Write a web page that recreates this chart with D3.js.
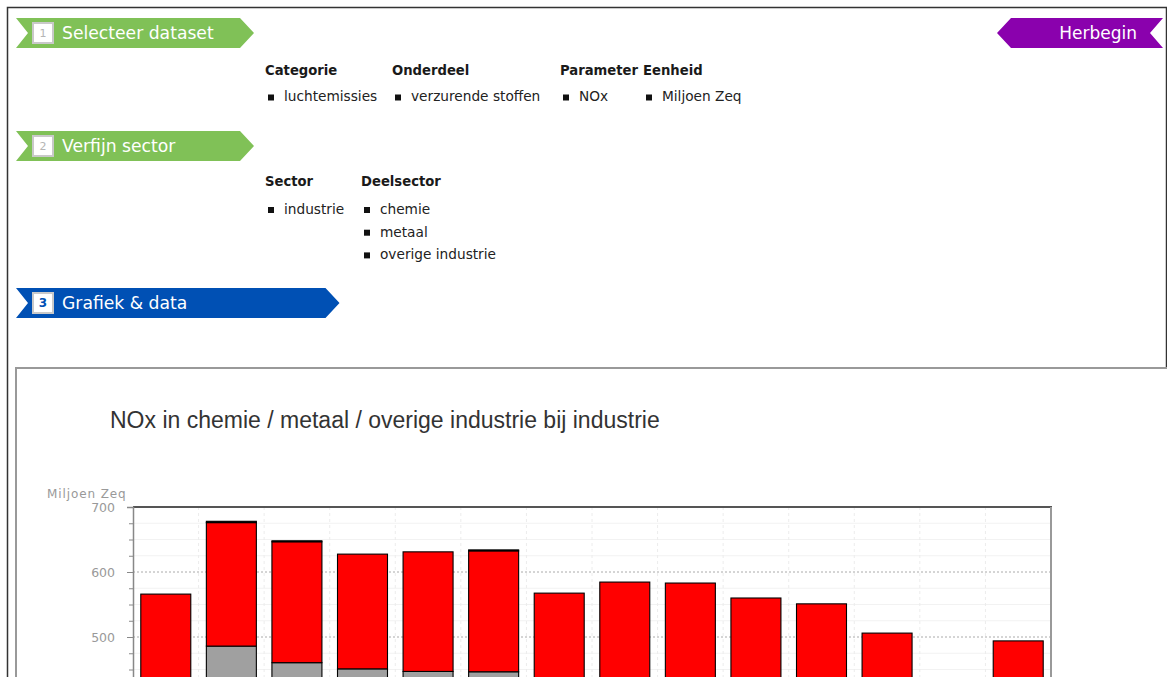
<!DOCTYPE html>
<html><head><meta charset="utf-8">
<script src="https://cdn.jsdelivr.net/npm/d3@7"></script>
<style>
html,body{margin:0;padding:0;overflow:hidden;background:#fff;}
svg{display:block;}
</style></head><body>
<svg id="c" width="1167" height="677"></svg>
<script>
// ---- data ----
const categories = ["1990","1995","1996","1997","1998","1999","2000","2001","2002","2003","2004","2005","2006","2007"];
const seriesKeys = ["chemie","metaal","overige industrie"];
const chemie  = [405, 486, 460.5, 451, 447, 446.5, 400, 408, 402, 392, 388, 352, 0, 345];
const metaal  = [161, 190, 186, 176.5, 184, 186, 167.5, 176.5, 181, 168, 163, 154, 0, 149];
const overige = [0, 2, 1.5, 0, 0, 1.5, 0, 0, 0, 0, 0, 0, 0, 0];
const seriesColors = ["#a0a0a0", "#ff0000", "#000000"];
const yMajorTicks = [500, 600, 700];
const yMinorTicks = [425, 450, 475, 525, 550, 575, 625, 650, 675];
const yDomain = [0, 700];
const unitLabel = "Miljoen Zeq";
const chartTitle = "NOx in chemie / metaal / overige industrie bij industrie";

const steps = [
  {n: "1", label: "Selecteer dataset", y: 18, color: "#80c157", x1: 240, active: false},
  {n: "2", label: "Verfijn sector", y: 131, color: "#80c157", x1: 240, active: false},
  {n: "3", label: "Grafiek & data", y: 288, color: "#0050b4", x1: 325.5, active: true}
];
const filterGroups1 = [
  {head: "Categorie", x: 265, items: ["luchtemissies"]},
  {head: "Onderdeel", x: 392, items: ["verzurende stoffen"]},
  {head: "Parameter", x: 560, items: ["NOx"]},
  {head: "Eenheid", x: 643, items: ["Miljoen Zeq"]}
];
const filterGroups2 = [
  {head: "Sector", x: 265, items: ["industrie"]},
  {head: "Deelsector", x: 361, items: ["chemie", "metaal", "overige industrie"]}
];

const svg = d3.select("#c");
const FONT = "'DejaVu Sans', Verdana, sans-serif";

// outer page border
svg.append("rect").attr("x", 7.5).attr("y", 7.5).attr("width", 1159).attr("height", 1100)
  .attr("fill", "none").attr("stroke", "#333").attr("stroke-width", 1.5);

// ribbons
steps.forEach(s => {
  const x0 = 16, h = 30, notch = 12, tip = 14, y0 = s.y;
  svg.append("path")
    .attr("d", `M${x0},${y0}L${s.x1},${y0}L${s.x1 + tip},${y0 + h / 2}L${s.x1},${y0 + h}L${x0},${y0 + h}L${x0 + notch},${y0 + h / 2}Z`)
    .attr("fill", s.color);
  svg.append("rect").attr("x", 33).attr("y", y0 + 5).attr("width", 20).attr("height", 20)
    .attr("fill", "#fff").attr("stroke", "#c9c9c9").attr("stroke-width", 2);
  svg.append("text").attr("x", 43).attr("y", y0 + 15).attr("dy", "0.36em")
    .attr("text-anchor", "middle")
    .attr("font-family", FONT).attr("font-size", s.active ? 12 : 11)
    .attr("font-weight", s.active ? "bold" : "normal")
    .attr("fill", s.active ? s.color : "#b5b5b5").text(s.n);
  svg.append("text").attr("x", 62).attr("y", y0 + 15).attr("dy", "0.36em")
    .attr("font-family", FONT).attr("font-size", 17.2).attr("fill", "#fff").text(s.label);
});

// Herbegin ribbon
svg.append("path").attr("d", "M1011,18L1163,18L1150,33L1163,48L1011,48L997,33Z").attr("fill", "#8a01ad");
svg.append("text").attr("x", 1137).attr("y", 33).attr("dy", "0.36em").attr("text-anchor", "end")
  .attr("font-family", FONT).attr("font-size", 17).attr("fill", "#fff").text("Herbegin");

// filter lists
function drawGroups(groups, headY, itemY0, itemStep) {
  groups.forEach(g => {
    svg.append("text").attr("x", g.x).attr("y", headY).attr("dy", "0.36em")
      .attr("font-family", FONT).attr("font-size", 13.2).attr("font-weight", "bold")
      .attr("fill", "#1a1a1a").text(g.head);
    g.items.forEach((it, i) => {
      const yy = itemY0 + i * itemStep;
      svg.append("rect").attr("x", g.x + 3).attr("y", yy - 2).attr("width", 6).attr("height", 6).attr("fill", "#111");
      svg.append("text").attr("x", g.x + 19).attr("y", yy).attr("dy", "0.36em")
        .attr("font-family", FONT).attr("font-size", 13.7).attr("fill", "#222").text(it);
    });
  });
}
drawGroups(filterGroups1, 70, 96.5, 23);
drawGroups(filterGroups2, 181.5, 209, 22.7);

// chart box
svg.append("rect").attr("x", 16).attr("y", 368).attr("width", 1170).attr("height", 800)
  .attr("fill", "#fff").attr("stroke", "#999").attr("stroke-width", 2);

svg.append("text").attr("x", 110).attr("y", 428)
  .attr("font-family", "'Liberation Sans', Arial, sans-serif").attr("font-size", 23)
  .attr("fill", "#333").text(chartTitle);

// scales
const plot = {left: 133, right: 1051, top: 507, bottom: 962};
const x = d3.scaleBand().domain(categories).range([plot.left, plot.right]).paddingInner(0.2375).paddingOuter(0.11875);
const y = d3.scaleLinear().domain(yDomain).range([plot.bottom, plot.top]);

const g = svg.append("g");

// minor grid
g.selectAll(".mg").data(yMinorTicks).enter().append("line")
  .attr("x1", plot.left).attr("x2", plot.right).attr("y1", d => y(d)).attr("y2", d => y(d))
  .attr("stroke", "#f2f2f2").attr("stroke-width", 1);
// vertical grid at slot boundaries
g.selectAll(".vg").data(categories.slice(1)).enter().append("line")
  .attr("x1", d => x(d) - x.step() * x.paddingInner() / 2).attr("x2", d => x(d) - x.step() * x.paddingInner() / 2)
  .attr("y1", plot.top).attr("y2", plot.bottom)
  .attr("stroke", "#ececec").attr("stroke-dasharray", "3,3");
// major grid
g.selectAll(".Mg").data(yMajorTicks.filter(d => d < yDomain[1])).enter().append("line")
  .attr("x1", plot.left).attr("x2", plot.right).attr("y1", d => y(d)).attr("y2", d => y(d))
  .attr("stroke", "#aaa").attr("stroke-dasharray", "2,2");

// stacked bars
const table = categories.map((c, i) => ({cat: c, "chemie": chemie[i], "metaal": metaal[i], "overige industrie": overige[i]}));
const stacked = d3.stack().keys(seriesKeys)(table);
stacked.forEach((layer, li) => {
  g.selectAll(".b" + li).data(layer.filter(d => d[1] - d[0] > 0)).enter().append("rect")
    .attr("x", d => x(d.data.cat)).attr("width", x.bandwidth())
    .attr("y", d => y(d[1])).attr("height", d => y(d[0]) - y(d[1]))
    .attr("fill", seriesColors[li]).attr("stroke", "#000").attr("stroke-width", 1.1);
});

// frame
g.append("line").attr("x1", plot.left).attr("x2", plot.right + 1).attr("y1", plot.top).attr("y2", plot.top)
  .attr("stroke", "#555").attr("stroke-width", 2);
g.append("line").attr("x1", plot.right).attr("x2", plot.right).attr("y1", plot.top).attr("y2", plot.bottom)
  .attr("stroke", "#999").attr("stroke-width", 2);

// axes
const ax = svg.append("g").attr("transform", `translate(${plot.left},0)`)
  .call(d3.axisLeft(y).tickValues(yMajorTicks).tickSize(6).tickPadding(12).tickFormat(d3.format("d")));
ax.select(".domain").attr("stroke", "#888").attr("stroke-width", 1.5);
ax.selectAll(".tick line").attr("stroke", "#888");
ax.selectAll(".tick text").attr("fill", "#999").attr("font-family", FONT).attr("font-size", 12.5);
const axm = svg.append("g").attr("transform", `translate(${plot.left},0)`)
  .call(d3.axisLeft(y).tickValues(yMinorTicks).tickSize(4).tickFormat(""));
axm.select(".domain").remove();
axm.selectAll(".tick line").attr("stroke", "#888");

svg.append("text").attr("x", 47).attr("y", 498)
  .attr("font-family", FONT).attr("font-size", 12).attr("letter-spacing", 0.9)
  .attr("fill", "#999").text(unitLabel);
</script>
</body></html>
